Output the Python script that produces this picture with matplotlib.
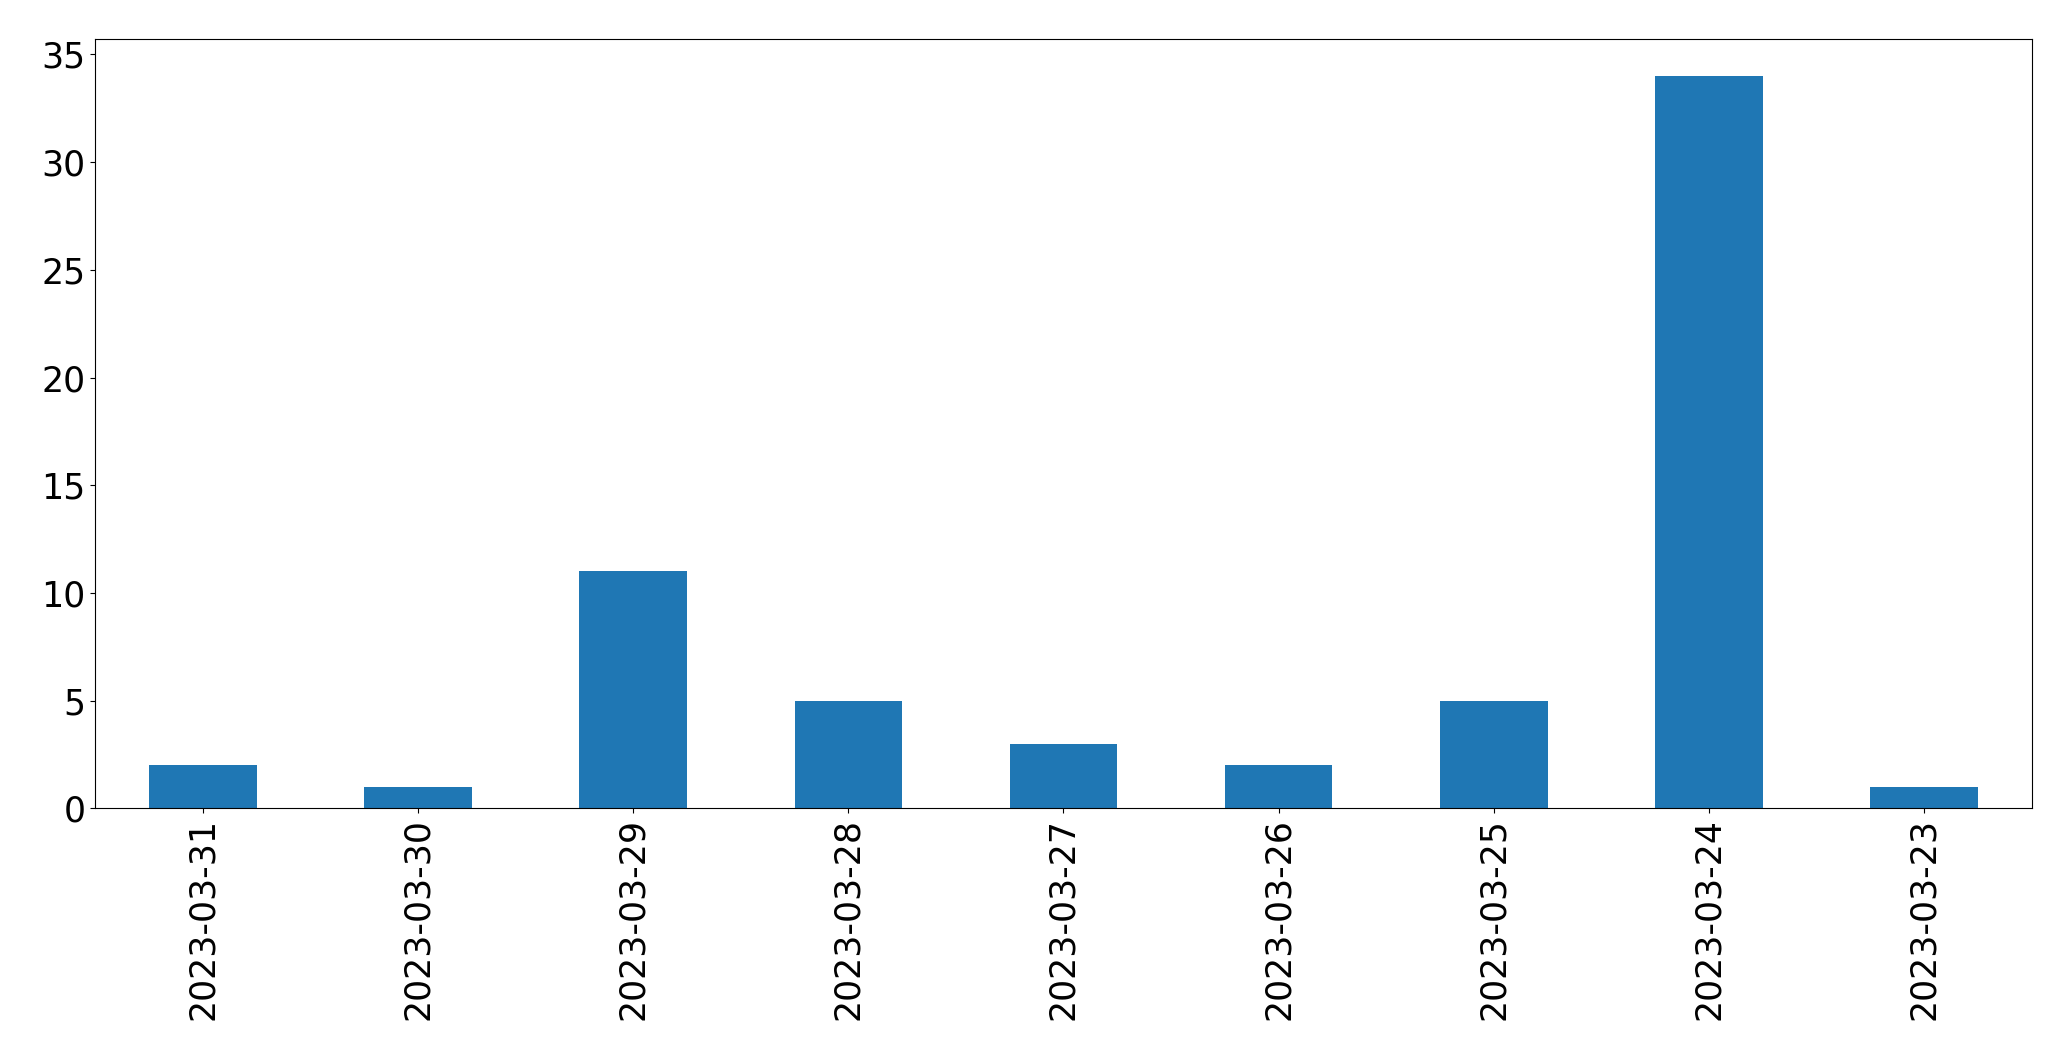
import numpy as np
import matplotlib
matplotlib.use('Agg')
import matplotlib.pyplot as plt

# daily counts, newest first
dates = ['2023-03-31', '2023-03-30', '2023-03-29', '2023-03-28', '2023-03-27',
         '2023-03-26', '2023-03-25', '2023-03-24', '2023-03-23']
counts = [2, 1, 11, 5, 3, 2, 5, 34, 1]

fig = plt.figure(figsize=(20.71, 10.61), dpi=100)
ax = fig.add_axes([0.046, 0.238, 0.935, 0.725])

x = np.arange(len(dates))
ax.bar(x, counts, width=0.5, color='#1f77b4')
ax.set_xlim(-0.5, len(dates) - 0.5)
ax.set_xticks(x)
ax.set_xticklabels(dates, rotation=90)
ax.tick_params(labelsize=25)

fig.savefig('out.png', dpi=100)
